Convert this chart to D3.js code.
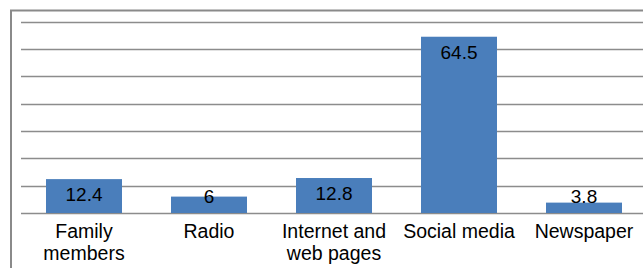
<!DOCTYPE html>
<html>
<head>
<meta charset="utf-8">
<script src="https://cdn.jsdelivr.net/npm/d3@7"></script>
<style>
  body { margin: 0; background: #fff; }
  text { font-family: "Liberation Sans", Arial, sans-serif; fill: #000; }
</style>
</head>
<body>
<div id="chart"></div>
<script>
// data
var categories = [["Family", "members"], ["Radio"], ["Internet and", "web pages"], ["Social media"], ["Newspaper"]];
var values = [12.4, 6, 12.8, 64.5, 3.8];
var gridTicks = [0, 10, 20, 30, 40, 50, 60, 70];

var width = 643, height = 268;

var svg = d3.select("#chart").append("svg")
    .attr("width", width)
    .attr("height", height);

// outer frame (runs off the right and bottom edges)
svg.append("path")
    .attr("d", "M11,280 V10.5 H660")
    .attr("fill", "none")
    .attr("stroke", "#8a8a8a")
    .attr("stroke-width", 2);

var x = d3.scaleBand()
    .domain(d3.range(values.length))
    .range([21.5, 646.5])
    .paddingInner(0.392)
    .paddingOuter(0.196);

var y = d3.scaleLinear()
    .domain([0, 70])
    .range([213, 21.7]);

// gridlines
svg.selectAll("line.grid")
    .data(gridTicks)
    .enter()
    .append("line")
    .attr("class", "grid")
    .attr("x1", 21)
    .attr("x2", 660)
    .attr("y1", function (d) { return Math.round(y(d)) + 0.5; })
    .attr("y2", function (d) { return Math.round(y(d)) + 0.5; })
    .attr("stroke", "#8c8c8c")
    .attr("stroke-width", 1.5);

// bars
svg.selectAll("rect.bar")
    .data(values)
    .enter()
    .append("rect")
    .attr("class", "bar")
    .attr("x", function (d, i) { return x(i); })
    .attr("width", x.bandwidth())
    .attr("y", function (d) { return y(d); })
    .attr("height", function (d) { return y(0) - y(d); })
    .style("fill", "#4a7ebb");

// value labels, inside end (held above the base when the bar is short)
svg.selectAll("text.val")
    .data(values)
    .enter()
    .append("text")
    .attr("class", "val")
    .attr("x", function (d, i) { return x(i) + x.bandwidth() / 2; })
    .attr("y", function (d) { return Math.min(y(d) + 22.3, y(0) - 9.7); })
    .attr("text-anchor", "middle")
    .style("font-size", "19px")
    .text(function (d) { return d; });

// category labels
var cat = svg.selectAll("text.cat")
    .data(categories)
    .enter()
    .append("text")
    .attr("class", "cat")
    .attr("text-anchor", "middle")
    .attr("x", function (d, i) { return x(i) + x.bandwidth() / 2; })
    .attr("y", 237.7)
    .style("font-size", "19.5px");

cat.selectAll("tspan")
    .data(function (d) { return d; })
    .enter()
    .append("tspan")
    .attr("x", function () { return d3.select(this.parentNode).attr("x"); })
    .attr("dy", function (d, i) { return i === 0 ? 0 : 22.3; })
    .text(function (d) { return d; });
</script>
</body>
</html>
